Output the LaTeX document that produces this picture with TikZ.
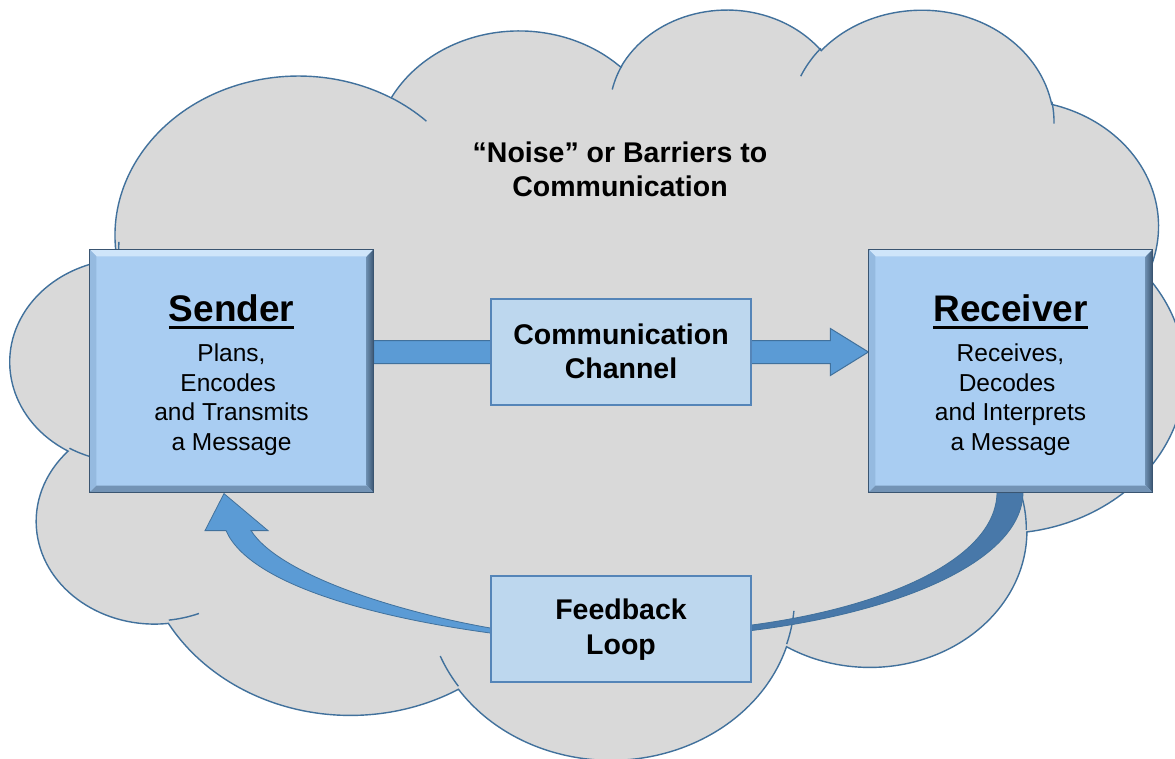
\documentclass[tikz,border=0pt]{standalone}
\usepackage{fontspec}
\setmainfont{Liberation Sans}
\usetikzlibrary{calc}

\pgfdeclarelayer{cloudlayer}
\pgfdeclarelayer{arrowlayer}
\pgfsetlayers{cloudlayer,arrowlayer,main}

\definecolor{cloudfill}{HTML}{D9D9D9}
\definecolor{cloudline}{HTML}{41719C}
\definecolor{boxblue}{HTML}{A9CDF2}
\definecolor{bevtop}{HTML}{CFE5FA}
\definecolor{bevleft}{HTML}{95BAE0}
\definecolor{bevright}{HTML}{6A8BAD}
\definecolor{bevbottom}{HTML}{7393B5}
\definecolor{bevedge}{HTML}{3A5571}
\definecolor{panelfill}{HTML}{BDD7EE}
\definecolor{panelline}{HTML}{5585B8}
\definecolor{arrowfill}{HTML}{5B9BD5}
\definecolor{arrowdark}{HTML}{4878A9}
\definecolor{arrowline}{HTML}{41719C}

% Each cloud lobe is an elliptical arc whose start and sweep are given as
% visual angles; TikZ wants parametric angles, so convert them here.
\newcommand\lobeangles[5]{% #1 style name, #2 x radius, #3 y radius, #4 start, #5 sweep
  \pgfmathsetmacro\lobeS{atan2((#2)*sin(#4),(#3)*cos(#4))}%
  \pgfmathsetmacro\lobeE{atan2((#2)*sin((#4)+(#5)),(#3)*cos((#4)+(#5)))}%
  \pgfmathsetmacro\lobeE{\lobeE+360*ceil((\lobeS-\lobeE)/360)}%
  \edef\lobetmp{\noexpand\tikzset{#1/.style={start angle=\lobeS,end angle=\lobeE,x radius=#2,y radius=#3}}}%
  \lobetmp}

% outline lobes
\lobeangles{lobeA}{67.53}{91.90}{-190.48748}{123.78053}
\lobeangles{lobeB}{53.33}{72.67}{-144.10238}{89.94523}
\lobeangles{lobeC}{43.65}{59.45}{-145.80792}{99.72302}
\lobeangles{lobeD}{48.57}{65.95}{-130.98607}{117.24173}
\lobeangles{lobeE}{53.33}{72.73}{-78.70888}{109.02692}
\lobeangles{lobeF}{67.75}{92.20}{-46.26725}{130.26900}
\lobeangles{lobeG}{57.85}{78.67}{0.62502}{114.03333}
\lobeangles{lobeH}{67.52}{92.15}{22.45160}{115.17255}
\lobeangles{lobeI}{77.20}{105.43}{66.24263}{75.71102}
\lobeangles{lobeJ}{43.60}{59.18}{-274.94208}{146.73557}
\lobeangles{lobeK}{43.45}{59.45}{-246.82850}{152.51885}
% short inner arcs between lobes
\lobeangles{stubA}{43.45}{59.45}{86.74200}{26.42950}
\lobeangles{stubB}{43.60}{59.18}{73.61047}{11.44747}
\lobeangles{stubC}{67.52}{92.15}{137.62415}{14.08110}
\lobeangles{stubD}{67.52}{92.15}{6.45327}{15.99835}
\lobeangles{stubE}{57.85}{78.67}{-70.29235}{70.91737}
\lobeangles{stubF}{53.33}{72.73}{30.31803}{27.75150}
\lobeangles{stubG}{48.57}{65.95}{-13.74433}{14.85890}
\lobeangles{stubH}{48.57}{65.95}{-149.18145}{18.19537}
\lobeangles{stubI}{43.65}{59.45}{-163.49427}{17.68635}
\lobeangles{stubJ}{67.53}{91.90}{-66.70695}{12.31935}
\lobeangles{stubK}{67.53}{91.90}{163.69665}{19.42762}

% underlined heading
\newcommand\undertitle[1]{\setbox0\hbox{#1}\rlap{\rule[-7.5pt]{\wd0}{3pt}}\box0}
% centred lines with a fixed baseline distance; baseline = first line
\newcommand\centredlines[2]{\vtop{\baselineskip=#1\relax\lineskiplimit=-50pt\halign{\hfil##\hfil\cr#2\crcr}}}

\newcommand\headfont{\fontsize{37}{44}\selectfont\bfseries}
\newcommand\bodyfont{\fontsize{24.5}{29.5}\selectfont}
\newcommand\panelfont{\fontsize{28.5}{34}\selectfont\bfseries}

\tikzset{
  keybox/.style={draw=bevedge, line width=1.2pt, fill=boxblue, inner sep=0pt,
                 minimum width=283pt, minimum height=242pt},
  panel/.style={draw=panelline, line width=1.6pt, fill=panelfill, inner sep=0pt,
                minimum width=260pt, minimum height=106pt},
  cloudbody/.style={fill=cloudfill, draw=cloudline, line width=1.4pt},
  cloudedge/.style={draw=cloudline, line width=1.4pt},
  arrowbody/.style={fill=arrowfill, draw=arrowline, line width=1pt, line join=miter},
  arrowback/.style={fill=arrowdark, draw=arrowline, line width=0.8pt},
  txt/.style={anchor=base, inner sep=0pt, text=black},
}

\begin{document}
\begin{tikzpicture}[x=1pt, y=-1pt]
\useasboundingbox (0,0) rectangle (1175,759);

% boxes
\node[keybox] (sender) at (231.5,371) {};
\node[keybox] (recv)   at (1010.5,371) {};
\node[panel]  (chan)   at (621,352) {};
\node[panel]  (fb)     at (621,629) {};

% bevelled edges of the two main boxes
\foreach \bx in {sender,recv}{
  \fill[bevtop] (\bx.north west) -- (\bx.north east) -- ($(\bx.north east)+(-7,7)$) -- ($(\bx.north west)+(7,7)$) -- cycle;
  \fill[bevleft] (\bx.north west) -- ($(\bx.north west)+(7,7)$) -- ($(\bx.south west)+(7,-7)$) -- (\bx.south west) -- cycle;
  \shade[left color=bevright, right color=bevedge] (\bx.north east) -- (\bx.south east) -- ($(\bx.south east)+(-7,-7)$) -- ($(\bx.north east)+(-7,7)$) -- cycle;
  \fill[bevbottom] (\bx.south west) -- (\bx.south east) -- ($(\bx.south east)+(-7,-7)$) -- ($(\bx.south west)+(7,-7)$) -- cycle;
  \draw[bevedge, line width=1.2pt] (\bx.north west) rectangle (\bx.south east);
}

% texts
\node[txt, font=\panelfont] (noise) at (620,163)
  {\centredlines{33.5pt}{“Noise” or Barriers to\cr Communication}};
\node[txt, font=\headfont] (sendertitle) at ($(sender.north)+(0,72)$) {\undertitle{Sender}};
\node[txt, font=\bodyfont] (sendertext) at ($(sender.north)+(0,112.5)$)
  {\centredlines{29.5pt}{Plans,\cr Encodes\ \cr and Transmits\cr a Message}};
\node[txt, font=\headfont] (recvtitle) at ($(recv.north)+(0,72)$) {\undertitle{Receiver}};
\node[txt, font=\bodyfont] (recvtext) at ($(recv.north)+(0,112.5)$)
  {\centredlines{29.5pt}{Receives,\cr Decodes\ \cr and Interprets\cr a Message}};
\node[txt, font=\panelfont] (chantext) at ($(chan.north)+(0,46)$)
  {\centredlines{34.3pt}{Communication\cr Channel}};
\node[txt, font=\panelfont] (fbtext) at ($(fb.north)+(0,44.5)$)
  {\centredlines{35pt}{Feedback\cr Loop}};

% connectors
\begin{pgfonlayer}{arrowlayer}
  \coordinate (a0) at (sender.east |- chan.center);
  \coordinate (a1) at (recv.west |- chan.center);
  \draw[arrowbody] ($(a0)+(0,-11.5)$) -- ($(a1)+(-38,-11.5)$) -- ($(a1)+(-38,-23.5)$) -- (a1)
    -- ($(a1)+(-38,23.5)$) -- ($(a1)+(-38,11.5)$) -- ($(a0)+(0,11.5)$) -- cycle;

  % feedback arrow: back part from the receiver
  \draw[arrowback]
    ($(recv.south)+(12.5,0)$) .. controls ($(recv.south)+(11.5,68)$) and ($(fb.east)+(149,-17)$) .. ($(fb.east)+(0,1.5)$)
    -- ($(fb.center)+(0,3)$) -- ($(fb.center)+(0,-1)$) -- ($(fb.east)+(0,-4)$)
    .. controls ($(fb.east)+(129,-21)$) and ($(recv.south)+(-14.5,68)$) .. ($(recv.south)+(-13.5,0)$) -- cycle;
  % feedback arrow: front part with the head at the sender
  \draw[arrowbody, line width=0.8pt]
    ($(sender.south)+(-26.5,38)$) -- ($(sender.south)+(-7.5,1)$) -- ($(sender.south)+(36.5,38)$) -- ($(sender.south)+(19.5,38)$)
    .. controls ($(sender.south)+(48.5,83)$) and ($(fb.west)+(-91,-17)$) .. ($(fb.west)+(0,-1)$)
    -- ($(fb.center)+(0,-1)$) -- ($(fb.center)+(0,3)$) -- ($(fb.west)+(0,4)$)
    .. controls ($(fb.west)+(-111,-11)$) and ($(sender.south)+(18.5,93)$) .. ($(sender.south)+(-5.5,38)$) -- cycle;
\end{pgfonlayer}

% the cloud behind everything
\begin{pgfonlayer}{cloudlayer}
  \fill[white] (0,0) rectangle (1175,759);
  \begin{scope}[shift={(10.7,7.6)}, xscale=2.7169, yscale=1.7361]
    \path[cloudbody] (39.00,143.70) arc[lobeA] arc[lobeB] arc[lobeC] arc[lobeD] arc[lobeE]
      arc[lobeF] arc[lobeG] arc[lobeH] arc[lobeI] arc[lobeJ] arc[lobeK] -- cycle;
    \draw[cloudedge] (46.93,261.77) arc[stubA] (69.28,348.99) arc[stubB]
      (164.78,390.90) arc[stubC] (288.27,347.51) arc[stubD] (341.29,229.54) arc[stubE]
      (417.98,153.54) arc[stubF] (383.24,54.26) arc[stubG] (290.78,39.52) arc[stubH]
      (221.41,47.20) arc[stubI] (140.00,51.92) arc[stubJ] (41.27,157.89) arc[stubK];
  \end{scope}
\end{pgfonlayer}
\end{tikzpicture}
\end{document}
